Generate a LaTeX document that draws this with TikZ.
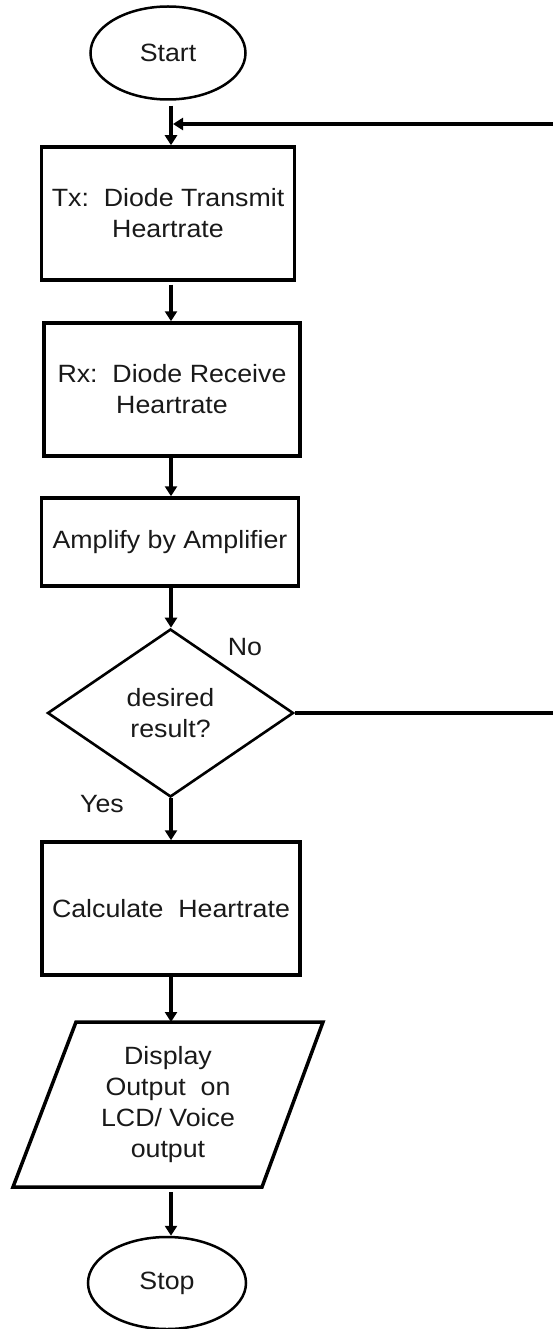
\documentclass[tikz,border=0pt]{standalone}
\usepackage{fontspec}
\setmainfont{Liberation Sans}[FakeStretch=1.07]
\usetikzlibrary{arrows.meta,shapes.geometric,calc}
\begin{document}
\begin{tikzpicture}[x=1pt,y=-1pt,
  txt/.style={font=\fontsize{25}{31}\selectfont, align=center, text=black!90},
  procbox/.style={draw, line width=3.5pt, rectangle, inner sep=0pt, txt},
  term/.style={draw, line width=2.5pt, ellipse, inner sep=0pt, txt},
  decide/.style={draw, line width=2.6pt, diamond, inner sep=0pt, txt},
  arr/.style={line width=4pt, -{Triangle[width=12pt,length=10pt]}}
]
\useasboundingbox (0,0) rectangle (553,1329);
\clip (0,0) rectangle (553,1329);

\node[term, minimum width=155pt, minimum height=93pt] (start) at (168,53) {Start};
\node[procbox, minimum width=253pt, minimum height=133pt] (tx) at (168,213.5) {Tx:\ \ Diode Transmit\\Heartrate};
\node[procbox, minimum width=256pt, minimum height=133pt] (rx) at (172,389.5) {Rx:\ \ Diode Receive\\Heartrate};
\node[procbox, minimum width=257pt, minimum height=88pt] (amp) at (170,542) {Amplify by Amplifier};
\node[decide, minimum width=246pt, minimum height=168pt] (dec) at (170.5,713) {desired\\result?};
\node[procbox, minimum width=258pt, minimum height=133pt] (calc) at (171,908.5) {Calculate\ \ Heartrate};
\node[txt, inner sep=0pt, minimum width=190pt, minimum height=165pt] (disp) at (168,1105) {Display\\Output\ \ on\\LCD/ Voice\\output};
\draw[line width=3.5pt, line join=miter] (76,1022) -- (323,1022) -- (262,1187) -- (13,1187) -- cycle;
\coordinate (dtop) at (171,1022);
\coordinate (dbot) at (171,1187);
\node[term, minimum width=158pt, minimum height=92pt] (stop) at (167,1283) {Stop};

\node[txt] (no) at (245,647) {No};
\node[txt] (yes) at (102,804) {Yes};

\coordinate (j) at (171,124);
\coordinate (r1) at (565,713);
\coordinate (r2) at (565,124);

\draw[arr] (start.south -| j) ++(0,5) -- (tx.north -| j);
\draw[arr] (tx.south -| j) ++(0,3) -- (rx.north -| j);
\draw[arr] (rx.south -| j) -- (amp.north -| j);
\draw[arr] (amp.south -| j) -- (dec.north -| j);
\draw[arr] (dec.south -| j) -- (calc.north -| j);
\draw[arr] (calc.south -| j) -- (dtop);
\draw[arr] (dbot) ++(0,5) -- (stop.north -| j);
\draw[arr, shorten >=2pt] (dec.east) -- (r1) -- (r2) -- (j);
\end{tikzpicture}
\end{document}
